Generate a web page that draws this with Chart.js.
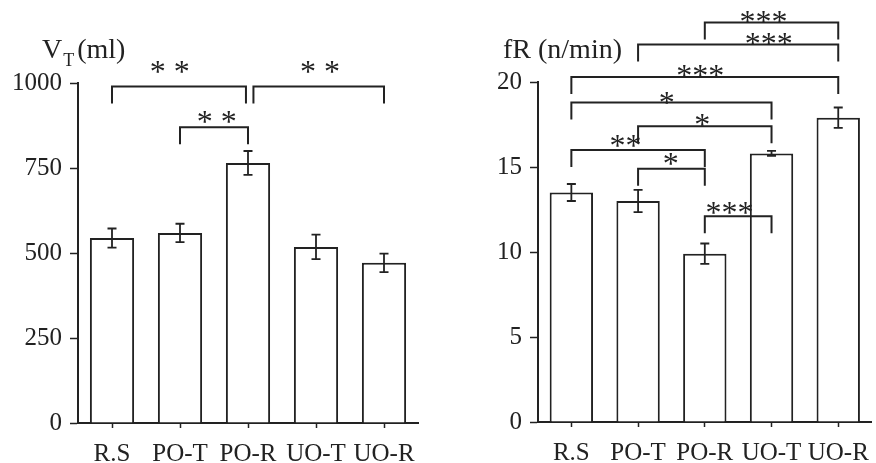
<!DOCTYPE html>
<html>
<head>
<meta charset="utf-8">
<script src="https://cdn.jsdelivr.net/npm/chart.js@4.4.1/dist/chart.umd.min.js"></script>
<style>
    html, body { margin: 0; padding: 0; background: #fff; overflow: hidden; }
    body { width: 876px; height: 463px; position: relative; }
    .panel { position: absolute; top: 0; width: 440px; height: 463px; }
    #vtPanel { left: 0; }
    #frPanel { left: 440px; }
</style>
</head>
<body>
<div class="panel" id="vtPanel"><canvas id="vtChart" width="440" height="463"></canvas></div>
<div class="panel" id="frPanel"><canvas id="frChart" width="440" height="463"></canvas></div>
<script>
// =========================================
// Data
// =========================================
const categories = ["R.S", "PO-T", "PO-R", "UO-T", "UO-R"];

// tidal volume (ml), mean and error
const vtMean = [544, 559, 765, 518, 471];
const vtErr = [28, 27, 35, 36, 27];
const vtTicks = [0, 250, 500, 750, 1000];

// respiratory frequency (n/min), mean and error
const frMean = [13.5, 13.0, 9.9, 15.8, 17.9];
const frErr = [0.5, 0.65, 0.6, 0.15, 0.6];
const frTicks = [0, 5, 10, 15, 20];

// significance brackets: [from, to, level, stars, label index, label level]
const vtBrackets = [
    [0, 1.97, 990, "* *", 0.85, 1047],
    [2.08, 4, 990, "* *", 3.06, 1047],
    [1, 2, 870, "* *", 1.54, 900],
];
const frBrackets = [
    [2, 4, 23.5, "***", 2.88, 23.8],
    [1, 4, 22.2, "***", 2.96, 22.5],
    [0, 4, 20.3, "***", 1.93, 20.65],
    [0, 3, 18.8, "*", 1.43, 19.05],
    [1, 3, 17.4, "*", 1.96, 17.75],
    [0, 2, 16.0, "**", 0.81, 16.5],
    [1, 2, 14.9, "*", 1.49, 15.45],
    [2, 3, 12.1, "***", 2.37, 12.6],
];

const INK = "#222";
const SERIF = "'Liberation Serif', 'Times New Roman', serif";
const STAR_SIZE = 32;

// =========================================
// Plugin: error bars, brackets, axis title
// =========================================
const extrasPlugin = {
    id: "extras",
    afterDatasetsDraw(chart, args, opts) {
        const ctx = chart.ctx;
        const xs = chart.scales.x;
        const ys = chart.scales.y;
        const meta = chart.getDatasetMeta(0);

        ctx.save();
        ctx.strokeStyle = INK;
        ctx.lineWidth = 1.8;

        // error bars
        opts.means.forEach((m, i) => {
            const x = meta.data[i].x;
            const yHi = ys.getPixelForValue(m + opts.errors[i]);
            const yLo = ys.getPixelForValue(m - opts.errors[i]);
            ctx.beginPath();
            ctx.moveTo(x, yHi);
            ctx.lineTo(x, yLo);
            ctx.moveTo(x - 4.5, yHi);
            ctx.lineTo(x + 4.5, yHi);
            ctx.moveTo(x - 4.5, yLo);
            ctx.lineTo(x + 4.5, yLo);
            ctx.stroke();
        });

        // brackets
        ctx.lineWidth = 2;
        ctx.fillStyle = INK;
        ctx.font = STAR_SIZE + "px " + SERIF;
        ctx.textAlign = "center";
        ctx.textBaseline = "alphabetic";
        opts.brackets.forEach((b) => {
            const x1 = xs.getPixelForValue(b[0]);
            const x2 = xs.getPixelForValue(b[1]);
            const y = ys.getPixelForValue(b[2]);
            ctx.beginPath();
            ctx.moveTo(x1, y + 17);
            ctx.lineTo(x1, y);
            ctx.lineTo(x2, y);
            ctx.lineTo(x2, y + 17);
            ctx.stroke();
            ctx.fillText(b[3], xs.getPixelForValue(b[4]), ys.getPixelForValue(b[5]) + STAR_SIZE * 0.46);
        });

        // axis title
        ctx.textAlign = "left";
        const t = opts.title;
        ctx.font = "28px " + SERIF;
        ctx.fillText(t.main, t.x, 58);
        let x = t.x + ctx.measureText(t.main).width;
        if (t.sub) {
            ctx.font = "18px " + SERIF;
            ctx.fillText(t.sub, x + 1, 66);
            x += ctx.measureText(t.sub).width + 4;
            ctx.font = "28px " + SERIF;
        }
        ctx.fillText(t.rest, x, 58);
        ctx.restore();
    },
};

function makeChart(canvasId, means, errors, ticks, brackets, title, pad, axisWidth, axisHeight) {
    return new Chart(document.getElementById(canvasId), {
        type: "bar",
        data: {
            labels: categories,
            datasets: [
                {
                    data: means,
                    backgroundColor: "#ffffff",
                    borderColor: INK,
                    borderWidth: 2,
                    barPercentage: 0.65,
                    categoryPercentage: 1,
                },
            ],
        },
        options: {
            responsive: false,
            animation: false,
            layout: { padding: pad },
            scales: {
                x: {
                    offset: true,
                    afterFit: (s) => { s.height = axisHeight; },
                    grid: {
                        offset: false,
                        drawOnChartArea: false,
                        tickLength: 5,
                        tickColor: INK,
                        tickWidth: 1.5,
                    },
                    border: { color: INK, width: 2 },
                    ticks: {
                        padding: 11,
                        color: INK,
                        font: { family: SERIF, size: 25 },
                        maxRotation: 0,
                        autoSkip: false,
                    },
                },
                y: {
                    min: ticks[0],
                    max: ticks[ticks.length - 1],
                    afterFit: (s) => { s.width = axisWidth; },
                    afterBuildTicks: (s) => { s.ticks = ticks.map((v) => ({ value: v })); },
                    grid: {
                        drawOnChartArea: false,
                        tickLength: 8,
                        tickColor: INK,
                        tickWidth: 1.5,
                    },
                    border: { color: INK, width: 2 },
                    ticks: {
                        padding: 8,
                        color: INK,
                        font: { family: SERIF, size: 25 },
                        callback: (v) => String(v),
                    },
                },
            },
            plugins: {
                legend: { display: false },
                tooltip: { enabled: false },
                extras: { means: means, errors: errors, brackets: brackets, title: title },
            },
        },
        plugins: [extrasPlugin],
    });
}

makeChart("vtChart", vtMean, vtErr, vtTicks, vtBrackets,
    { main: "V", sub: "T", rest: "(ml)", x: 42 },
    { top: 83, right: 22, left: 0, bottom: 0 }, 78, 40);

makeChart("frChart", frMean, frErr, frTicks, frBrackets,
    { main: "fR (n/min)", sub: "", rest: "", x: 63 },
    { top: 82, right: 2, left: 0, bottom: 0 }, 98, 41);
</script>
</body>
</html>
